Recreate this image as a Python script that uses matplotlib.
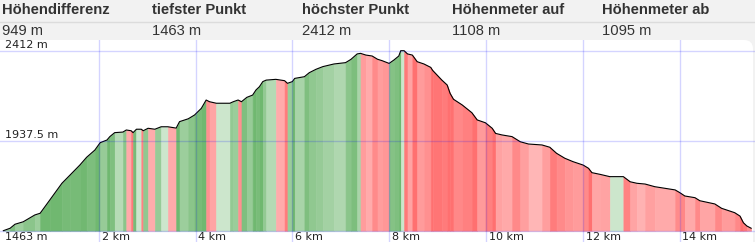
import numpy as np
import matplotlib
matplotlib.use('Agg')
import matplotlib.pyplot as plt
from matplotlib.patches import FancyBboxPatch, Rectangle
from matplotlib.transforms import IdentityTransform

# header table
headers = ['Höhendifferenz', 'tiefster Punkt', 'höchster Punkt', 'Höhenmeter auf', 'Höhenmeter ab']
values = ['949 m', '1463 m', '2412 m', '1108 m', '1095 m']

# elevation profile (km, m)
km = [0.03, 0.17, 0.27, 0.44, 0.68, 0.79, 0.99, 1.24, 1.41, 1.61, 1.75, 1.92, 2.03, 2.17, 2.23,
      2.33, 2.50, 2.57, 2.67, 2.71, 2.78, 2.88, 2.92, 3.02, 3.16, 3.29, 3.43, 3.60, 3.67, 3.85,
      3.98, 4.12, 4.22, 4.29, 4.43, 4.71, 4.78, 4.88, 4.95, 5.06, 5.18, 5.25, 5.32, 5.39, 5.46,
      5.66, 5.84, 5.90, 6.00, 6.05, 6.25, 6.35, 6.49, 6.63, 6.86, 7.10, 7.21, 7.34, 7.41, 7.52,
      7.65, 7.76, 7.86, 8.00, 8.10, 8.20, 8.24, 8.31, 8.38, 8.48, 8.58, 8.72, 8.86, 8.90, 9.09,
      9.20, 9.26, 9.33, 9.51, 9.71, 9.82, 9.99, 10.13, 10.20, 10.33, 10.54, 10.71, 10.88, 11.16,
      11.32, 11.46, 11.63, 11.80, 12.01, 12.12, 12.19, 12.36, 12.56, 12.84, 12.98, 13.12, 13.29,
      13.49, 13.91, 14.01, 14.11, 14.32, 14.42, 14.73, 14.87, 15.14, 15.25, 15.32, 15.39, 15.48]
elev = [1463, 1476, 1497, 1510, 1546, 1555, 1625, 1713, 1757, 1809, 1850, 1888, 1927, 1941, 1959,
        1980, 1983, 1994, 1990, 1980, 1998, 1998, 1990, 2003, 1998, 2011, 2011, 2004, 2038, 2053,
        2073, 2108, 2152, 2143, 2135, 2135, 2143, 2152, 2143, 2166, 2178, 2205, 2222, 2249, 2257,
        2261, 2254, 2240, 2249, 2266, 2275, 2296, 2314, 2328, 2342, 2349, 2366, 2395, 2398, 2389,
        2384, 2367, 2359, 2345, 2363, 2384, 2412, 2412, 2395, 2389, 2354, 2342, 2324, 2308, 2257,
        2231, 2187, 2156, 2126, 2085, 2047, 2032, 2003, 1976, 1968, 1959, 1932, 1920, 1915,
        1903, 1871, 1845, 1827, 1809, 1792, 1769, 1760, 1748, 1748, 1721, 1713, 1709,
        1695, 1678, 1663, 1646, 1637, 1621, 1604, 1581, 1558, 1540, 1505, 1488, 1476]

y_ticks = [1463, 1937.5, 2412]
y_labels = ['1463 m', '1937.5 m', '2412 m']
x_ticks = [2, 4, 6, 8, 10, 12, 14]
x_labels = ['2 km', '4 km', '6 km', '8 km', '10 km', '12 km', '14 km']

W, H = 755, 242
fig = plt.figure(figsize=(W / 100, H / 100), dpi=100, facecolor='#f2f2f2')

# white panel with rounded top-right corner
panel = FancyBboxPatch((0, -20), 753, H - 40 + 20, boxstyle='round,pad=0,rounding_size=9',
                       transform=IdentityTransform(), facecolor='white', edgecolor='none', zorder=-2)
fig.patches.append(panel)
fig.patches.append(Rectangle((0, -20), 20, H - 40 + 20, transform=IdentityTransform(),
                             facecolor='white', edgecolor='none', zorder=-2))

# header table
for i, (h, v) in enumerate(zip(headers, values)):
    x = (2 + 150 * i) / W
    fig.text(x, 1 - 10.5 / H, h, fontsize=10.6, fontweight='bold', family='Liberation Sans',
             color='#333333', va='center', ha='left')
    fig.text(x, 1 - 31 / H, v, fontsize=10.6, family='Liberation Sans',
             color='#333333', va='center', ha='left')
fig.add_artist(plt.Line2D([0, 1], [1 - 21.5 / H, 1 - 21.5 / H], transform=fig.transFigure,
                          color='#dcdcdc', lw=1))

# profile axes: 1463 m at y=230.7 px, 2412 m at y=50.7 px, 0 km at x=1.9 px
px_km = 48.4
px_m = 180 / 949
ax = fig.add_axes([0, 0, 1, (H - 40) / H])
ax.set_facecolor('none')
ax.set_xlim(-1.9 / px_km, (W - 1.9) / px_km)
ax.set_ylim(1463 - (H - 230.7) / px_m, 1463 + (230.7 - 40) / px_m)
ax.axis('off')

# stripes coloured by gradient: green uphill, red downhill
base = y_ticks[0]
for i in range(len(km) - 1):
    slope = (elev[i + 1] - elev[i]) / (km[i + 1] - km[i])
    a = 0.2 + 0.36 * np.sqrt(min(abs(slope) / 300, 1))
    rgb = np.array([0, 128, 0]) if slope >= 0 else np.array([255, 0, 0])
    c = (255 - a * (255 - rgb)) / 255
    ax.fill_between(km[i:i + 2], base, elev[i:i + 2], color=c, lw=0.4, edgecolor=c, zorder=1)
ax.plot(km, elev, color='black', lw=0.8, zorder=3)

grid_c = (0, 0, 1, 0.17)
for t in y_ticks:
    ax.axhline(t, color=grid_c, lw=1, zorder=4)
for t in x_ticks:
    ax.axvline(t, color=grid_c, lw=1, zorder=4)

for t, lab in zip(y_ticks, y_labels):
    if t == base:
        ax.text(5 / W, base - 6.5 / px_m, lab, transform=ax.get_yaxis_transform(),
                fontsize=8, family='DejaVu Sans', color='#222222', va='center', ha='left')
    else:
        ax.text(5 / W, t + 5.5 / px_m, lab, transform=ax.get_yaxis_transform(),
                fontsize=8, family='DejaVu Sans', color='#222222', va='center', ha='left')
for t, lab in zip(x_ticks, x_labels):
    ax.text(t + 3 / px_km, base - 6.5 / px_m, lab, fontsize=8, family='DejaVu Sans',
            color='#222222', va='center', ha='left')

fig.savefig('out.png', dpi=100, facecolor=fig.get_facecolor())
